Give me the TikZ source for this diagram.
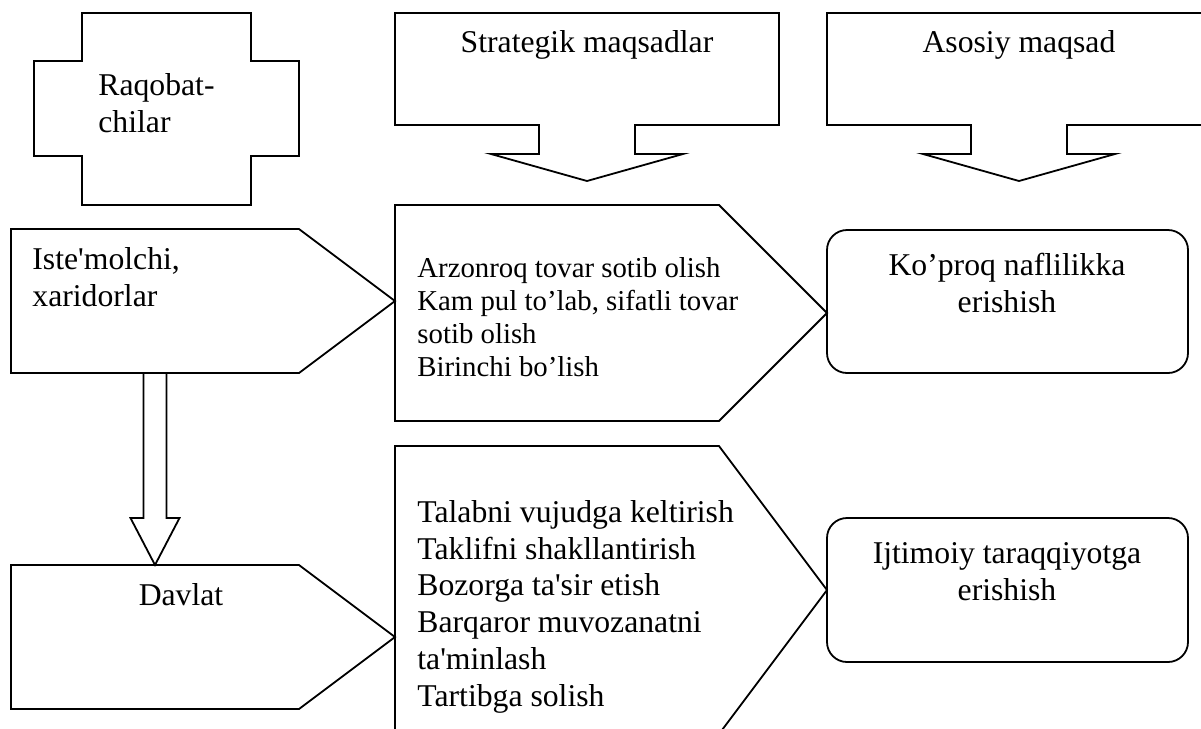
\documentclass[tikz,border=0pt]{standalone}
\usepackage{fontspec}
\setmainfont{Liberation Serif}[Ligatures=TeXOff]
\usetikzlibrary{calc}

\begin{document}
\begin{tikzpicture}[x=0.5pt, y=-0.5pt,
        blk/.style={draw, line width=0.9pt, line join=miter},
        goal/.style={draw, line width=0.9pt, rounded corners=10pt},
        txt/.style={inner sep=0pt, align=left, anchor=base west,
          font=\fontsize{15.85}{18.35}\selectfont},
        ctxt/.style={txt, align=center, anchor=base},
        smalltxt/.style={txt, font=\fontsize{14.4}{16.5}\selectfont}]

        \clip (0,0) rectangle (1201,729);

        %%% Left column
        % Competitors: cross shape
        \draw[blk] (82,13) -- (251,13) -- (251,61) -- (299,61) -- (299,156)
          -- (251,156) -- (251,205) -- (82,205) -- (82,156) -- (34,156)
          -- (34,61) -- (82,61) -- cycle;
        % (base of a multi-line node = its last line)
        \node[txt] (raqob) at (98,132) {Raqobat-\\chilar};

        % Consumers
        \draw[blk] (11,229) -- (299,229) -- (395,301) -- (299,373) -- (11,373) -- cycle;
        \node[txt] (istem) at (32,306) {Iste'molchi,\\xaridorlar};

        % State
        \draw[blk] (11,565) -- (299,565) -- (395,637) -- (299,709) -- (11,709) -- cycle;
        \node[ctxt] (davlat) at (181,605) {Davlat};

        % Hollow arrow from consumers down to the state
        \coordinate (istebot) at (155,373);
        \coordinate (davtop) at (155,565);
        \draw[blk] ($(istebot)+(-11.5,0)$) -- ($(davtop)+(-11.5,-47)$)
          -- ($(davtop)+(-24.5,-47)$) -- (davtop) -- ($(davtop)+(24.5,-47)$)
          -- ($(davtop)+(11.5,-47)$) -- ($(istebot)+(11.5,0)$);

        %%% Middle column
        % Strategic aims, with arrow pointing down
        \draw[blk] (395,13) -- (779,13) -- (779,125) -- (635,125) -- (635,154)
          -- (683,154) -- (587,181) -- (491,154) -- (539,154) -- (539,125)
          -- (395,125) -- cycle;
        \node[ctxt] (strat) at (587,52) {Strategik maqsadlar};

        % Aims of the consumers
        \draw[blk] (395,205) -- (719,205) -- (827,313) -- (719,421) -- (395,421) -- cycle;
        \node[smalltxt] (xaridmaq) at (417,376)
          {Arzonroq tovar sotib olish\\Kam pul to’lab, sifatli tovar\\sotib olish\\Birinchi bo’lish};

        % Aims of the state
        \draw[blk] (395,446) -- (719,446) -- (827,590) -- (719,734) -- (395,734) -- cycle;
        \node[txt] (davmaq) at (417,706)
          {Talabni vujudga keltirish\\Taklifni shakllantirish\\Bozorga ta'sir etish\\Barqaror muvozanatni\\ta'minlash\\Tartibga solish};

        %%% Right column
        % Main aim, with arrow pointing down
        \draw[blk] (827,13) -- (1211,13) -- (1211,125) -- (1067,125) -- (1067,154)
          -- (1115,154) -- (1019,181) -- (923,154) -- (971,154) -- (971,125)
          -- (827,125) -- cycle;
        \node[ctxt] (asosiy) at (1019,52) {Asosiy maqsad};

        % Results
        \draw[goal] (827,230) rectangle (1188,373);
        \node[ctxt] (naf) at (1007,312) {Ko’proq naflilikka\\erishish};

        \draw[goal] (827,518) rectangle (1188,662);
        \node[ctxt] (ijtim) at (1007,600) {Ijtimoiy taraqqiyotga\\erishish};
      \end{tikzpicture}
\end{document}
